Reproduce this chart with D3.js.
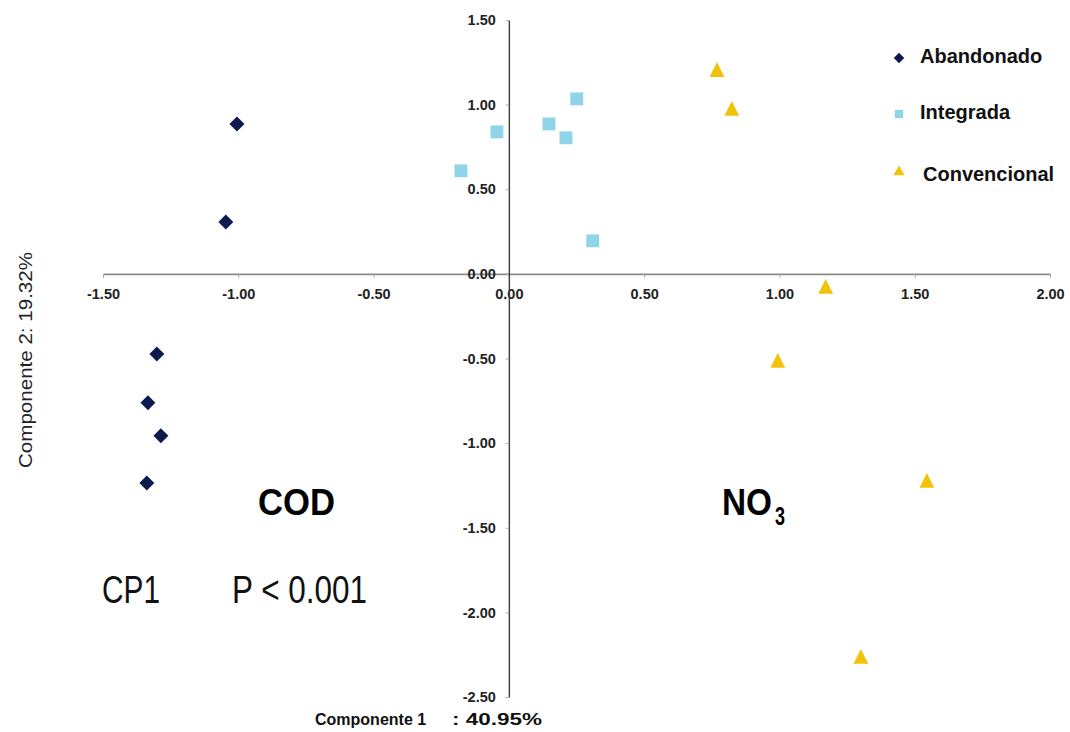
<!DOCTYPE html>
<html>
<head>
<meta charset="utf-8">
<script src="https://cdn.jsdelivr.net/npm/d3@7"></script>
<style>
  html, body { margin: 0; padding: 0; background: #fff; }
  svg { display: block; font-family: "Liberation Sans", Arial, sans-serif; }
</style>
</head>
<body>
<svg id="chart" width="1070" height="732"></svg>
<script>
// ---- data ----
const seriesNames = ["Abandonado", "Integrada", "Convencional"];

const abandonadoX = [-1.005, -1.046, -1.301, -1.334, -1.286, -1.338];
const abandonadoY = [0.886, 0.307, -0.473, -0.762, -0.957, -1.235];

const integradaX = [-0.177, -0.044, 0.148, 0.251, 0.211, 0.310];
const integradaY = [0.609, 0.839, 0.886, 1.034, 0.804, 0.195];

const convencionalX = [0.769, 0.824, 1.171, 0.994, 1.545, 1.301];
const convencionalY = [1.193, 0.963, -0.089, -0.526, -1.235, -2.275];

const xTickValues = [-1.5, -1.0, -0.5, 0.0, 0.5, 1.0, 1.5, 2.0];
const yTickValues = [-2.5, -2.0, -1.5, -1.0, -0.5, 0.0, 0.5, 1.0, 1.5];

const xTitleMain = "Componente 1";
const xTitleValue = ": 40.95%";
const yTitle = "Componente 2: 19.32%";

// ---- drawing ----
const svg = d3.select("#chart");
const x = d3.scaleLinear().domain([-1.5, 2.0]).range([103, 1050]);
const y = d3.scaleLinear().domain([-2.5, 1.5]).range([697, 20]);
const fmt = v => d3.format(".2f")(v).replace("\u2212", "-");

const colors = { Abandonado: "#0d1a4e", Integrada: "#8fd4e9", Convencional: "#f1c20c" };

// x axis (through y=0)
const gx = svg.append("g")
  .attr("transform", `translate(0,${y(0)})`)
  .call(d3.axisBottom(x).tickValues(xTickValues).tickFormat(fmt)
        .tickSize(4).tickSizeOuter(0).tickPadding(11));
gx.select(".domain").attr("stroke", "#8a8a8a").attr("stroke-width", 1.6);
gx.selectAll(".tick line").attr("stroke", "#aaa");
gx.selectAll(".tick text").attr("font-size", 14.5).attr("font-weight", "bold")
  .attr("fill", "#222").attr("font-family", "Liberation Sans, Arial, sans-serif");

// y axis (through x=0)
const gy = svg.append("g")
  .attr("transform", `translate(${x(0)},0)`)
  .call(d3.axisLeft(y).tickValues(yTickValues).tickFormat(fmt)
        .tickSize(3).tickSizeOuter(0).tickPadding(10));
gy.select(".domain").attr("stroke", "#3a3a3a").attr("stroke-width", 1.4);
gy.selectAll(".tick line").attr("stroke", "#aaa");
gy.selectAll(".tick text").attr("font-size", 14.5).attr("font-weight", "bold")
  .attr("fill", "#222").attr("font-family", "Liberation Sans, Arial, sans-serif");

// markers
const diamond = d3.symbol().type(d3.symbolSquare).size(112);
const square = d3.symbol().type(d3.symbolSquare).size(165);
const triangle = d3.symbol().type(d3.symbolTriangle).size(95);

function pts(xs, ys) { return xs.map((v, i) => ({ x: v, y: ys[i] })); }

svg.append("g").selectAll("path").data(pts(abandonadoX, abandonadoY)).join("path")
  .attr("d", diamond())
  .attr("transform", d => `translate(${x(d.x)},${y(d.y)}) rotate(45)`)
  .attr("fill", colors.Abandonado);

svg.append("g").selectAll("path").data(pts(integradaX, integradaY)).join("path")
  .attr("d", square())
  .attr("transform", d => `translate(${x(d.x)},${y(d.y)})`)
  .attr("fill", colors.Integrada);

svg.append("g").selectAll("path").data(pts(convencionalX, convencionalY)).join("path")
  .attr("d", triangle())
  .attr("transform", d => `translate(${x(d.x)},${y(d.y)}) scale(1,1.15)`)
  .attr("fill", colors.Convencional);

// legend
const legend = svg.append("g");
const legendRows = [
  { name: seriesNames[0], sym: d3.symbol().type(d3.symbolSquare).size(55), rot: 45, my: 58, ty: 63, tx: 920 },
  { name: seriesNames[1], sym: d3.symbol().type(d3.symbolSquare).size(70), rot: 0, my: 114, ty: 119, tx: 920 },
  { name: seriesNames[2], sym: d3.symbol().type(d3.symbolTriangle).size(55), rot: 0, my: 172, ty: 181, tx: 923 }
];
legendRows.forEach(r => {
  legend.append("path").attr("d", r.sym())
    .attr("transform", `translate(899,${r.my}) rotate(${r.rot})`)
    .attr("fill", colors[r.name]);
  legend.append("text").attr("x", r.tx).attr("y", r.ty)
    .attr("font-size", 20).attr("font-weight", "bold").attr("fill", "#111")
    .text(r.name);
});

// axis titles
svg.append("text").attr("x", 315).attr("y", 725)
  .attr("font-size", 16).attr("font-weight", "bold").attr("fill", "#111")
  .text(xTitleMain);
svg.append("text").attr("x", 452).attr("y", 725)
  .attr("font-size", 16).attr("font-weight", "bold").attr("fill", "#111")
  .attr("textLength", 90).attr("lengthAdjust", "spacingAndGlyphs")
  .text(xTitleValue);

svg.append("text")
  .attr("transform", "translate(32,360) rotate(-90)")
  .attr("text-anchor", "middle")
  .attr("font-size", 19).attr("fill", "#222")
  .attr("textLength", 216).attr("lengthAdjust", "spacingAndGlyphs")
  .text(yTitle);

// annotations
svg.append("text").attr("x", 258).attr("y", 515)
  .attr("font-size", 37).attr("font-weight", "bold").attr("fill", "#000")
  .attr("textLength", 77).attr("lengthAdjust", "spacingAndGlyphs")
  .text("COD");

const no3 = svg.append("text").attr("x", 722).attr("y", 515)
  .attr("font-weight", "bold").attr("fill", "#000");
no3.append("tspan").attr("font-size", 36)
  .attr("textLength", 50).attr("lengthAdjust", "spacingAndGlyphs")
  .text("NO");
no3.append("tspan").attr("x", 775).attr("dy", 10).attr("font-size", 25)
  .attr("textLength", 10).attr("lengthAdjust", "spacingAndGlyphs")
  .text("3");

svg.append("text").attr("x", 102).attr("y", 603)
  .attr("font-size", 38).attr("fill", "#111")
  .attr("textLength", 58).attr("lengthAdjust", "spacingAndGlyphs")
  .text("CP1");
svg.append("text").attr("x", 232).attr("y", 603)
  .attr("font-size", 38).attr("fill", "#111")
  .attr("textLength", 135).attr("lengthAdjust", "spacingAndGlyphs")
  .text("P < 0.001");
</script>
</body>
</html>
